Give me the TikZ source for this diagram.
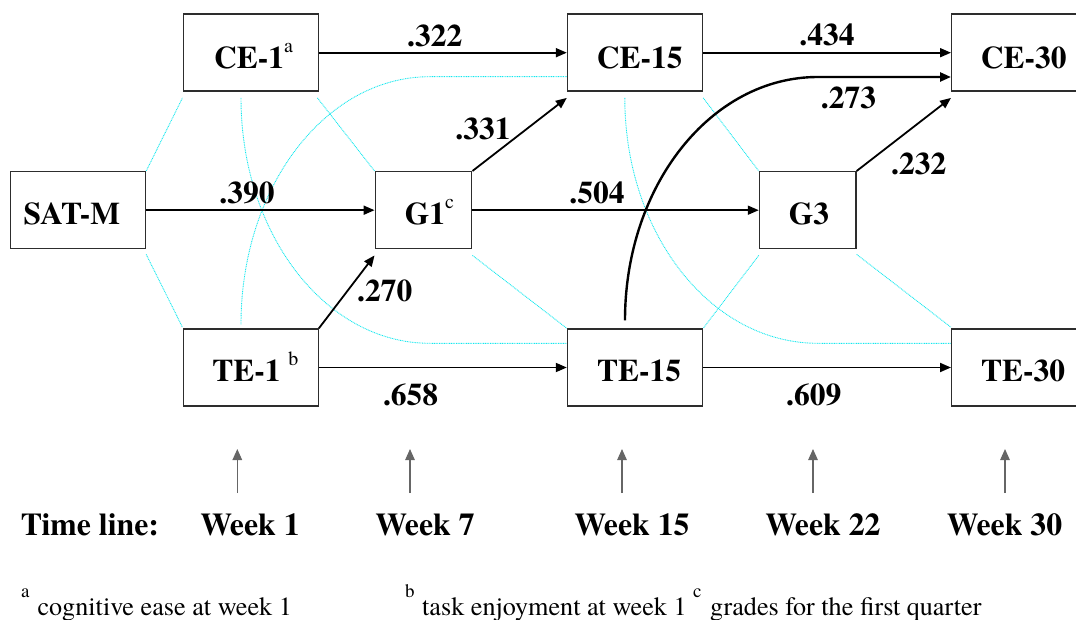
\documentclass[tikz,border=0pt]{standalone}
\usepackage{fontspec}
\setmainfont{texgyretermes}[Extension=.otf,UprightFont=*-regular,BoldFont=*-bold,ItalicFont=*-italic,BoldItalicFont=*-bolditalic]
\usetikzlibrary{arrows.meta,calc}
\definecolor{corr}{RGB}{20,232,238}
\definecolor{frame}{RGB}{45,45,45}
\definecolor{tickgray}{RGB}{102,102,102}
% small raised marker used inside the boxes
\newcommand\supmark[1]{\raisebox{16pt}{\normalfont\fontsize{20}{20}\selectfont #1}}
% raised footnote marker
\newcommand\fnmark[1]{\raisebox{18pt}{\normalfont\fontsize{19}{19}\selectfont #1}}

\begin{document}
\begin{tikzpicture}[x=1pt,y=-1pt,
  box/.style={draw=frame,line width=1.4pt,minimum height=77pt,minimum width=135pt,inner sep=0pt},
  gbox/.style={box,minimum width=96.5pt},
  boxtext/.style={font=\fontsize{31.5}{32}\selectfont\bfseries,anchor=base,inner sep=0pt},
  coef/.style={font=\fontsize{31.5}{32}\selectfont\bfseries,anchor=base,inner sep=0pt},
  weektext/.style={font=\fontsize{31.8}{32}\selectfont\bfseries,anchor=base,inner sep=0pt},
  notetext/.style={font=\fontsize{26.2}{27}\selectfont,anchor=base west,inner sep=0pt},
  effect/.style={line width=1.8pt,-{Triangle[length=11pt,width=9pt]}},
  corrline/.style={corr,line width=0.9pt,dash pattern=on 0.9pt off 0.8pt},
  tickarrow/.style={tickgray,line width=1.3pt,-{Triangle[length=11pt,width=9.5pt]}}
]
\useasboundingbox (0,0) rectangle (1076,620);

% ---- variables ----
\node[box]  (satm) at (78,210.2)     {};
\node[box]  (ce1)  at (250.7,52.7)   {};
\node[box]  (te1)  at (250.7,367.5)  {};
\node[gbox] (g1)   at (423.5,210.2)  {};
\node[box]  (ce15) at (635,52.7)     {};
\node[box]  (te15) at (635,367.5)    {};
\node[gbox] (g3)   at (807.7,210.2)  {};
\node[box]  (ce30) at (1019.2,52.7)  {};
\node[box]  (te30) at (1019.2,367.5) {};

\node[boxtext] (satmT) at ($(satm)+(-6.2,14.8)$) {SAT-M};
\node[boxtext] (ce1T)  at ($(ce1)+(2.8,15.6)$)   {CE-1\supmark{a}};
\node[boxtext] (te1T)  at ($(te1)+(4.7,14.2)$)   {TE-1\ \supmark{b}};
\node[boxtext] (g1T)   at ($(g1)+(6,14.8)$)      {G1\supmark{c}};
\node[boxtext] (ce15T) at ($(ce15)+(4.7,15.6)$)  {CE-15};
\node[boxtext] (te15T) at ($(te15)+(4,14.2)$)    {TE-15};
\node[boxtext] (g3T)   at ($(g3)+(1.2,14.8)$)    {G3};
\node[boxtext] (ce30T) at ($(ce30)+(4.6,15.6)$)  {CE-30};
\node[boxtext] (te30T) at ($(te30)+(4,14.2)$)    {TE-30};

% ---- correlations (dotted) ----
\draw[corrline] (satm.north east) -- ($(ce1.south west)+(0,6)$);
\draw[corrline] ($(satm.south east)+(0,5)$) -- ($(te1.north west)+(0,-1)$);
\draw[corrline] ($(ce1.south east)+(-1.5,6)$) -- (g1.north west);
\draw[corrline] ($(g1.south east)+(0,6)$) -- (te15.north west);
\draw[corrline] ($(ce15.south east)+(0,6)$) -- (g3.north west);
\draw[corrline] ($(g3.south west)+(0,6)$) -- (te15.north east);
\draw[corrline] ($(g3.south east)+(0,5)$) -- ($(te30.north west)+(0,-1)$);
\draw[corrline] ($(ce1.south)+(-9.7,6)$) .. controls +(0,136) and +(-104.5,0) ..
  ($(te15.west)+(-137,-24.2)$) -- ($(te15.west)+(0,-24.2)$);
\draw[corrline] ($(te1.north)+(-9.7,-4)$) .. controls +(0,-137) and +(-104.5,0) ..
  ($(ce15.west)+(-137,24)$) -- ($(ce15.west)+(0,24)$);
\draw[corrline] ($(ce15.south)+(-10.2,6)$) .. controls +(0,136.1) and +(-106.9,0) ..
  ($(te30.west)+(-133.2,-24.2)$) -- ($(te30.west)+(0,-24.2)$);

% ---- paths ----
\draw[effect] (ce1) -- (ce15);
\draw[effect] (ce15) -- (ce30);
\draw[effect] (satm) -- (g1);
\draw[effect] (g1) -- (g3);
\draw[effect] (te1) -- (te15);
\draw[effect] (te15) -- (te30);
\draw[effect] (g1.north east) -- ($(ce15.south west)+(0,6)$);
\draw[effect] (te1.north east) -- ($(g1.south west)+(0,6)$);
\draw[effect] (g3.north east) -- ($(ce30.south west)+(0,6)$);
\draw[effect,line width=2.4pt] ($(te15.north)+(-10,-8)$) .. controls +(0,-134.7) and +(-106.8,0) ..
  ($(ce30.west)+(-133.2,24.3)$) -- ($(ce30.west)+(0,24.3)$);

% ---- coefficients ----
\node[coef] (c322) at (434.7,46.7)  {.322};
\node[coef] (c434) at (827,45.7)    {.434};
\node[coef] (c331) at (483,140)     {.331};
\node[coef] (c273) at (848.5,108.3) {.273};
\node[coef] (c232) at (918.7,175)   {.232};
\node[coef] (c390) at (247,203.3)   {.390};
\node[coef] (c504) at (597,203.3)   {.504};
\node[coef] (c270) at (384.8,301.7) {.270};
\node[coef] (c658) at (410.6,405)   {.658};
\node[coef] (c609) at (813.7,405)   {.609};

% ---- time line ----
\coordinate (w1)  at (237.3,493);
\coordinate (w7)  at (410,493);
\coordinate (w15) at (622,493);
\coordinate (w22) at (813,493);
\coordinate (w30) at (1005,493);
\foreach \c in {w1,w7,w15,w22,w30}
  \draw[tickarrow] (\c) -- ++(0,-44);

\node[weektext,anchor=base west] (tl) at (20.6,535) {Time line:};
\node[weektext] (wk1)  at (250,535)    {Week 1};
\node[weektext] (wk7)  at (425,535)    {Week 7};
\node[weektext] (wk15) at (632,535)    {Week 15};
\node[weektext] (wk22) at (823,535)    {Week 22};
\node[weektext] (wk30) at (1004.6,535) {Week 30};

% ---- notes ----
\node[notetext] (na) at (21,615)  {\fnmark{a}};
\node[notetext] (ta) at (37.3,615) {cognitive ease at week 1};
\node[notetext] (nb) at (405,615) {\fnmark{b}};
\node[notetext] (tb) at (422,615) {task enjoyment at week 1};
\node[notetext] (nc) at (693,615) {\fnmark{c}};
\node[notetext] (tc) at (710,615) {grades for the first quarter};
\end{tikzpicture}
\end{document}
